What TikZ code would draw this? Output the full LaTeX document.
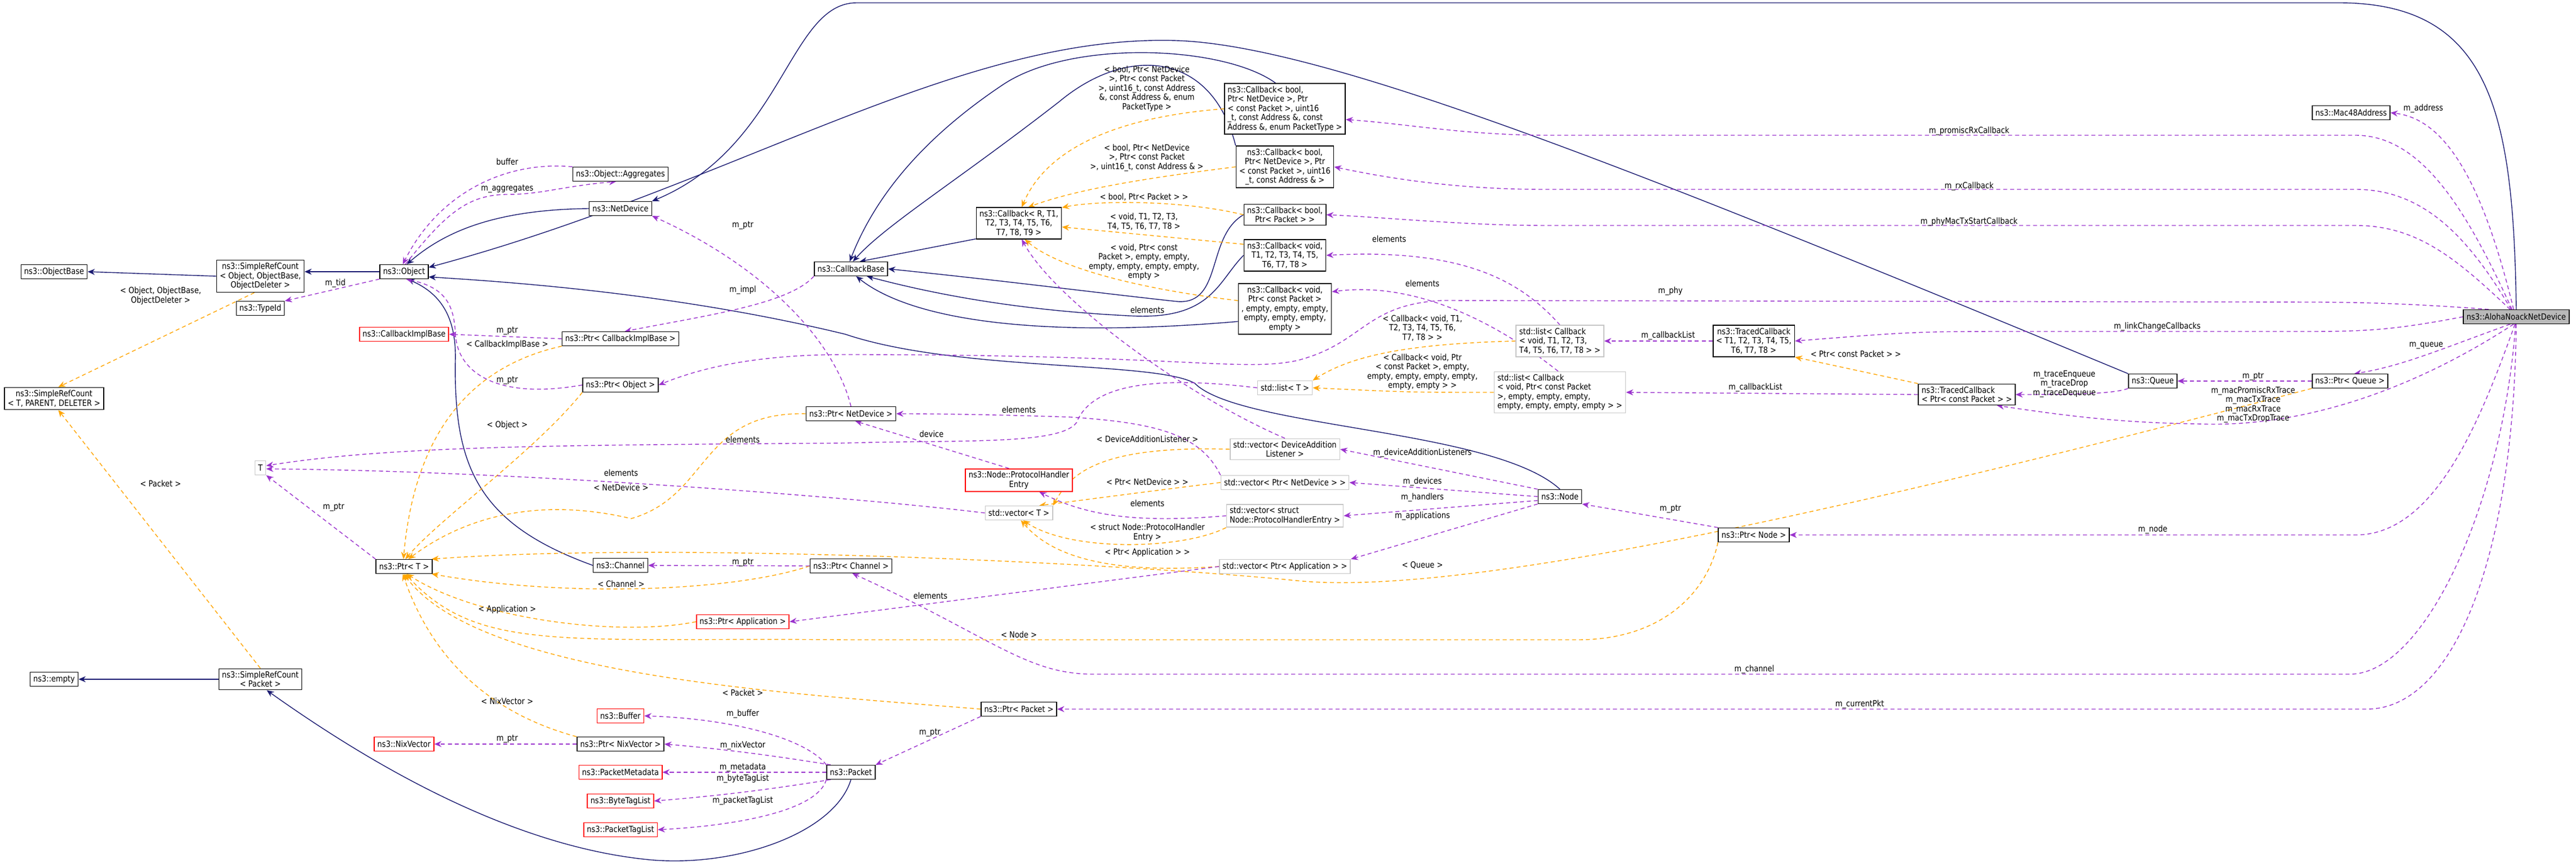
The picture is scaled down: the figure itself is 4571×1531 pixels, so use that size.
\documentclass[tikz,border=0pt]{standalone}
\usepackage{fontspec}
\setmainfont{DejaVu Sans}[FakeStretch=0.86]
\usetikzlibrary{arrows.meta}
\pgfdeclarelayer{bg}
\pgfsetlayers{bg,main}
\definecolor{inhc}{HTML}{191970}
\definecolor{usec}{HTML}{9A32CD}
\definecolor{tplc}{HTML}{FFA500}
\begin{document}
\begin{tikzpicture}[x=0.01cm,y=-0.01cm,
  every node/.style={font=\fontsize{4.3}{4.7}\selectfont},
  box/.style={draw=black,fill=white,line width=0.45pt,align=center,inner xsep=1.6pt,inner ysep=1.3pt,minimum height=7pt},
  rbox/.style={box,draw=red},
  gbox/.style={box,draw=gray!45},
  lbox/.style={box,align=left},
  lab/.style={align=center,inner sep=0.5pt},
  inh/.style={draw=inhc,line width=0.4pt,-{Stealth[length=3.6pt,width=3pt]}},
  use/.style={draw=usec,line width=0.4pt,dash pattern=on 2pt off 1.5pt,-{Stealth[length=3.6pt,width=3pt]}},
  tpl/.style={draw=tplc,line width=0.4pt,dash pattern=on 2pt off 1.5pt,-{Stealth[length=3.6pt,width=3pt]}}]
\useasboundingbox (0,0) rectangle (4571,1531);
% nodes
\node[box] (ob) at (96,482) {ns3::ObjectBase};
\node[box] (srco) at (462,490) {ns3::SimpleRefCount\\< Object, ObjectBase,\\ObjectDeleter >};
\node[box] (obj) at (717,482) {ns3::Object};
\node[box] (agg) at (1101,309) {ns3::Object::Aggregates};
\node[box] (nd) at (1101,370) {ns3::NetDevice};
\node[box] (tid) at (462,547) {ns3::TypeId};
\node[rbox] (cib) at (717,593) {ns3::CallbackImplBase};
\node[box] (pcib) at (1101,601) {ns3::Ptr< CallbackImplBase >};
\node[box] (srct) at (96,707) {ns3::SimpleRefCount\\< T, PARENT, DELETER >};
\node[box] (pobj) at (1101,683) {ns3::Ptr< Object >};
\node[gbox] (tt) at (462,830) {T};
\node[box] (ptrt) at (717,1005) {ns3::Ptr< T >};
\node[box] (chan) at (1101,1003) {ns3::Channel};
\node[rbox] (papp) at (1318,1103) {ns3::Ptr< Application >};
\node[box] (empty) at (96,1205) {ns3::empty};
\node[box] (srcp) at (462,1205) {ns3::SimpleRefCount\\< Packet >};
\node[rbox] (buf) at (1101,1270) {ns3::Buffer};
\node[rbox] (nix) at (717,1320) {ns3::NixVector};
\node[box] (pnix) at (1101,1320) {ns3::Ptr< NixVector >};
\node[rbox] (meta) at (1101,1370) {ns3::PacketMetadata};
\node[rbox] (btl) at (1101,1421) {ns3::ByteTagList};
\node[rbox] (ptl) at (1101,1472) {ns3::PacketTagList};
\node[box] (pkt) at (1510,1370) {ns3::Packet};
\node[box] (cbb) at (1510,477) {ns3::CallbackBase};
\node[box] (cbr) at (1808,396) {ns3::Callback< R, T1,\\T2, T3, T4, T5, T6,\\T7, T8, T9 >};
\node[lbox] (cbpt) at (2280,193) {ns3::Callback< bool,\\ Ptr< NetDevice >, Ptr\\< const Packet >, uint16\\\_t, const Address \&, const\\ Address \&, enum PacketType >};
\node[box] (cbaddr) at (2280,296) {ns3::Callback< bool,\\Ptr< NetDevice >, Ptr\\< const Packet >, uint16\\\_t, const Address \& >};
\node[box] (cbbp) at (2280,381) {ns3::Callback< bool,\\Ptr< Packet > >};
\node[box] (cbvt) at (2280,453) {ns3::Callback< void,\\T1, T2, T3, T4, T5,\\T6, T7, T8 >};
\node[box] (cbvp) at (2280,548) {ns3::Callback< void,\\Ptr< const Packet >\\, empty, empty, empty,\\empty, empty, empty,\\empty >};
\node[gbox,align=left] (lcbt) at (2768,605) {std::list< Callback\\< void, T1, T2, T3,\\ T4, T5, T6, T7, T8 > >};
\node[gbox] (lt) at (2280,688) {std::list< T >};
\node[gbox,align=left] (lcbp) at (2768,696) {std::list< Callback\\< void, Ptr< const Packet\\>, empty, empty, empty,\\ empty, empty, empty, empty > >};
\node[box] (pnd) at (1510,734) {ns3::Ptr< NetDevice >};
\node[gbox] (vdal) at (2280,797) {std::vector< DeviceAddition\\Listener >};
\node[rbox] (phe) at (1808,852) {ns3::Node::ProtocolHandler\\Entry};
\node[gbox] (vpnd) at (2280,856) {std::vector< Ptr< NetDevice > >};
\node[gbox] (vt) at (1808,910) {std::vector< T >};
\node[gbox,align=left] (vphe) at (2280,915) {std::vector< struct\\ Node::ProtocolHandlerEntry >};
\node[box] (node) at (2768,881) {ns3::Node};
\node[gbox] (vapp) at (2280,1005) {std::vector< Ptr< Application > >};
\node[box] (pch) at (1510,1004) {ns3::Ptr< Channel >};
\node[box] (pnode) at (3112,949) {ns3::Ptr< Node >};
\node[box] (ppkt) at (1808,1258) {ns3::Ptr< Packet >};
\node[box] (tct) at (3112,605) {ns3::TracedCallback\\< T1, T2, T3, T4, T5,\\T6, T7, T8 >};
\node[lbox] (tcp) at (3490,700) {ns3::TracedCallback\\< Ptr< const Packet > >};
\node[box] (queue) at (3820,676) {ns3::Queue};
\node[box] (pq) at (4170,676) {ns3::Ptr< Queue >};
\node[box] (mac) at (4172,200) {ns3::Mac48Address};
\node[box,fill=gray!55] (aloha) at (4465,562) {ns3::AlohaNoackNetDevice};
% labels
\node[lab] at (900,287) {buffer};
\node[lab] at (900,335) {m\_aggregates};
\node[lab] at (595,503) {m\_tid};
\node[lab] at (285,525) {< Object, ObjectBase,\\ObjectDeleter >};
\node[lab] at (285,858) {< Packet >};
\node[lab] at (1318,400) {m\_ptr};
\node[lab] at (900,587) {m\_ptr};
\node[lab] at (900,611) {< CallbackImplBase >};
\node[lab] at (1318,515) {m\_impl};
\node[lab] at (900,675) {m\_ptr};
\node[lab] at (900,754) {< Object >};
\node[lab] at (1318,780) {elements};
\node[lab] at (1102,839) {elements};
\node[lab] at (1102,865) {< NetDevice >};
\node[lab] at (592,900) {m\_ptr};
\node[lab] at (1318,998) {m\_ptr};
\node[lab] at (1102,1036) {< Channel >};
\node[lab] at (900,1081) {< Application >};
\node[lab] at (1318,1229) {< Packet >};
\node[lab] at (900,1244) {< NixVector >};
\node[lab] at (900,1311) {m\_ptr};
\node[lab] at (1318,1267) {m\_buffer};
\node[lab] at (1318,1323) {m\_nixVector};
\node[lab] at (1318,1362) {m\_metadata};
\node[lab] at (1318,1382) {m\_byteTagList};
\node[lab] at (1318,1421) {m\_packetTagList};
\node[lab] at (1650,1300) {m\_ptr};
\node[lab] at (1651,1057) {elements};
\node[lab] at (1808,1126) {< Node >};
\node[lab] at (2035,157) {< bool, Ptr< NetDevice\\>, Ptr< const Packet\\>, uint16\_t, const Address\\\&, const Address \&, enum\\PacketType >};
\node[lab] at (2035,280) {< bool, Ptr< NetDevice\\>, Ptr< const Packet\\>, uint16\_t, const Address \& >};
\node[lab] at (2030,350) {< bool, Ptr< Packet > >};
\node[lab] at (2030,393) {< void, T1, T2, T3,\\T4, T5, T6, T7, T8 >};
\node[lab] at (2030,465) {< void, Ptr< const\\Packet >, empty, empty,\\empty, empty, empty, empty,\\empty >};
\node[lab] at (2036,550) {elements};
\node[lab] at (2524,503) {elements};
\node[lab] at (2465,424) {elements};
\node[lab] at (2964,517) {m\_phy};
\node[lab] at (2524,582) {< Callback< void, T1,\\T2, T3, T4, T5, T6,\\T7, T8 > >};
\node[lab] at (2524,660) {< Callback< void, Ptr\\< const Packet >, empty,\\empty, empty, empty, empty,\\empty, empty > >};
\node[lab] at (1808,727) {elements};
\node[lab] at (1653,770) {device};
\node[lab] at (2036,779) {< DeviceAdditionListener >};
\node[lab] at (2036,855) {< Ptr< NetDevice > >};
\node[lab] at (2036,893) {elements};
\node[lab] at (2036,945) {< struct Node::ProtocolHandler\\Entry >};
\node[lab] at (2036,980) {< Ptr< Application > >};
\node[lab] at (2524,804) {m\_deviceAdditionListeners};
\node[lab] at (2524,855) {m\_devices};
\node[lab] at (2524,883) {m\_handlers};
\node[lab] at (2524,916) {m\_applications};
\node[lab] at (2524,1003) {< Queue >};
\node[lab] at (2964,903) {m\_ptr};
\node[lab] at (2960,596) {m\_callbackList};
\node[lab] at (3115,688) {m\_callbackList};
\node[lab] at (3293,628) {< Ptr< const Packet > >};
\node[lab] at (3663,681) {m\_traceEnqueue\\m\_traceDrop\\m\_traceDequeue};
\node[lab] at (3998,668) {m\_ptr};
\node[lab] at (3998,718) {m\_macPromiscRxTrace\\m\_macTxTrace\\m\_macRxTrace\\m\_macTxDropTrace};
\node[lab] at (4300,193) {m\_address};
\node[lab] at (3494,233) {m\_promiscRxCallback};
\node[lab] at (3494,331) {m\_rxCallback};
\node[lab] at (3494,394) {m\_phyMacTxStartCallback};
\node[lab] at (3828,580) {m\_linkChangeCallbacks};
\node[lab] at (4305,613) {m\_queue};
\node[lab] at (3820,940) {m\_node};
\node[lab] at (3113,1188) {m\_channel};
\node[lab] at (3300,1250) {m\_currentPkt};
\begin{pgfonlayer}{bg}
% inheritance
\draw[inh] (srco.west) -- (ob.east);
\draw[inh] (obj.west) -- (srco.east |- obj.west);
\draw[inh] (nd.west) .. controls (880,372) and (790,410) .. (obj.70);
\draw[inh] (queue.north west) .. controls (2900,300) and (2350,80) .. (2087,72) .. controls (1700,60) and (1300,330) .. (obj.10);
\draw[inh] (node.north) .. controls (2650,760) and (2200,760) .. (2120,680) .. controls (2050,640) and (1700,660) .. (1500,593) .. controls (1200,520) and (900,500) .. (obj.-12);
\draw[inh] (chan.west) .. controls (850,930) and (805,830) .. (808,640) .. controls (810,560) and (780,520) .. (obj.-65);
\draw[inh] (cbr.200) -- (cbb.40);
\draw[inh] (cbpt.110) .. controls (2170,80) and (1900,70) .. (1780,150) .. controls (1660,230) and (1560,330) .. (cbb.100);
\draw[inh] (cbaddr.north west) .. controls (2150,90) and (2000,80) .. (1880,180) .. controls (1700,320) and (1570,400) .. (cbb.75);
\draw[inh] (cbbp.west) .. controls (2140,420) and (2170,540) .. (2090,535) .. controls (1950,520) and (1800,500) .. (cbb.east);
\draw[inh] (cbvt.west) .. controls (2160,500) and (2150,570) .. (2000,560) .. controls (1800,550) and (1650,520) .. (cbb.-25);
\draw[inh] (cbvp.195) .. controls (1850,600) and (1620,570) .. (cbb.-55);
\draw[inh] (srcp.west) -- (empty.east);
\draw[inh] (pkt.south) .. controls (1480,1480) and (1300,1540) .. (1150,1525) .. controls (900,1500) and (650,1350) .. (srcp.-60);
\draw[inh] (aloha.north) .. controls (4460,200) and (4420,5) .. (4150,5) -- (1520,5) .. controls (1400,5) and (1390,260) .. (nd.north east);
% templates
\draw[tpl] (cbpt.west) .. controls (1950,210) and (1850,280) .. (cbr.80);
\draw[tpl] (cbaddr.west) .. controls (2000,320) and (1900,340) .. (cbr.60);
\draw[tpl] (cbbp.west) .. controls (2100,355) and (1950,355) .. (cbr.20);
\draw[tpl] (cbvt.165) -- (cbr.-5);
\draw[tpl] (cbvp.170) .. controls (2000,510) and (1870,470) .. (cbr.-70);
\draw[tpl] (srco.250) -- (srct.70);
\draw[tpl] (srcp.north) -- (srct.-70);
\draw[tpl] (pcib.south west) .. controls (880,640) and (740,720) .. (ptrt.95);
\draw[tpl] (pobj.south west) .. controls (950,800) and (780,920) .. (ptrt.80);
\draw[tpl] (pnd.west) .. controls (1240,730) and (1260,880) .. (1120,920) .. controls (950,880) and (820,920) .. (ptrt.60);
\draw[tpl] (pq.south west) .. controls (3300,900) and (2600,1060) .. (2300,1030) .. controls (2000,1000) and (1200,960) .. (ptrt.15);
\draw[tpl] (pch.west) .. controls (1300,1050) and (1000,1060) .. (ptrt.-15);
\draw[tpl] (papp.west) .. controls (1100,1130) and (850,1100) .. (ptrt.-70);
\draw[tpl] (pnode.south west) .. controls (3030,1050) and (2950,1135) .. (2800,1135) -- (1500,1135) .. controls (1000,1130) and (850,1160) .. (ptrt.-80);
\draw[tpl] (ppkt.west) .. controls (1400,1230) and (850,1200) .. (ptrt.-92);
\draw[tpl] (pnix.north west) .. controls (850,1260) and (760,1150) .. (ptrt.-100);
\draw[tpl] (lcbt.west) .. controls (2500,610) and (2400,630) .. (lt.north east);
\draw[tpl] (lcbp.west) .. controls (2500,696) .. (lt.east);
\draw[tpl] (vdal.west) .. controls (1950,790) and (1900,840) .. (vt.north east);
\draw[tpl] (vpnd.west) .. controls (2050,870) and (1900,890) .. (vt.20);
\draw[tpl] (vphe.south west) .. controls (2100,975) and (1900,980) .. (vt.-60);
\draw[tpl] (vapp.west) .. controls (1950,1020) and (1860,980) .. (vt.-75);
\draw[tpl] (tcp.north west) -- (tct.south east);
% usage
\draw[use] (agg.north west) .. controls (900,285) and (780,340) .. (obj.100);
\draw[use] (obj.80) .. controls (790,380) and (830,345) .. (900,345) .. controls (960,345) and (1000,330) .. (agg.-120);
\draw[use] (obj.south west) -- (tid.north east);
\draw[use] (pnd.north) .. controls (1480,600) and (1350,470) .. (nd.south east);
\draw[use] (pcib.west) -- (cib.east);
\draw[use] (cbb.south west) .. controls (1400,540) and (1250,560) .. (pcib.60);
\draw[use] (pobj.west) .. controls (880,710) and (810,660) .. (808,590) .. controls (805,540) and (790,510) .. (obj.-75);
\draw[use] (lt.west) .. controls (2000,660) and (1930,700) .. (1910,750) .. controls (1880,790) and (1700,780) .. (1500,786) .. controls (1000,790) and (700,790) .. (tt.20);
\draw[use] (vt.west) .. controls (1500,880) and (900,835) .. (tt.-10);
\draw[use] (ptrt.north west) -- (tt.south east);
\draw[use] (pch.west) -- (chan.east);
\draw[use] (pnix.west) -- (nix.east);
\draw[use] (pkt.north west) .. controls (1430,1310) and (1300,1275) .. (buf.east);
\draw[use] (pkt.160) .. controls (1400,1345) and (1300,1330) .. (pnix.east);
\draw[use] (pkt.west) -- (meta.east);
\draw[use] (pkt.200) .. controls (1400,1395) and (1300,1410) .. (btl.east);
\draw[use] (pkt.south west) .. controls (1450,1440) and (1300,1465) .. (ptl.east);
\draw[use] (ppkt.south west) -- (pkt.north east);
\draw[use] (vapp.west) -- (papp.east);
\draw[use] (vpnd.north west) .. controls (2130,770) and (2050,750) .. (1900,740) .. controls (1750,735) and (1650,734) .. (pnd.east);
\draw[use] (phe.130) -- (pnd.-60);
\draw[use] (vphe.west) .. controls (2000,930) and (1920,910) .. (phe.-30);
\draw[use] (vdal.north) .. controls (2100,700) and (1870,530) .. (cbr.-80);
\draw[use] (lcbp.95) .. controls (2640,560) and (2500,500) .. (cbvp.20);
\draw[use] (lcbt.north) .. controls (2700,500) and (2600,440) .. (cbvt.east);
\draw[use] (tct.west) -- (lcbt.east);
\draw[use] (tcp.west) -- (lcbp.east);
\draw[use] (node.north west) -- (vdal.east);
\draw[use] (node.west) -- (vpnd.east);
\draw[use] (node.-170) -- (vphe.east);
\draw[use] (node.south west) -- (vapp.north east);
\draw[use] (pnode.north west) -- (node.south east);
\draw[use] (queue.south west) .. controls (3750,700) and (3650,700) .. (tcp.east);
\draw[use] (pq.west) -- (queue.east);
\draw[use] (aloha.110) .. controls (4400,300) and (4330,210) .. (mac.east);
\draw[use] (aloha.120) .. controls (4380,380) and (4300,240) .. (4180,240) -- (2750,240) .. controls (2600,240) and (2500,220) .. (cbpt.-10);
\draw[use] (aloha.125) .. controls (4380,420) and (4300,336) .. (4180,336) -- (2740,336) .. controls (2600,336) and (2480,320) .. (cbaddr.east);
\draw[use] (aloha.130) .. controls (4360,460) and (4290,400) .. (4180,400) -- (2740,400) .. controls (2600,400) and (2450,385) .. (cbbp.east);
\draw[use] (aloha.165) .. controls (4300,540) and (4200,536) .. (4100,536) -- (2560,533) .. controls (2420,540) and (2420,610) .. (2300,640) .. controls (2200,660) and (2100,629) .. (1500,629) .. controls (1350,629) and (1250,650) .. (pobj.east);
\draw[use] (aloha.west) .. controls (4250,585) and (4200,588) .. (4100,588) -- (3600,588) .. controls (3400,588) .. (tct.east);
\draw[use] (aloha.-130) .. controls (4330,620) and (4260,650) .. (pq.60);
\draw[use] (aloha.-110) .. controls (4300,680) and (4100,760) .. (3900,752) .. controls (3750,750) and (3650,735) .. (tcp.-20);
\draw[use] (aloha.-100) .. controls (4400,750) and (4320,949) .. (4180,949) -- (pnode.east);
\draw[use] (aloha.-95) .. controls (4440,900) and (4300,1196) .. (4170,1196) -- (1940,1196) .. controls (1820,1196) and (1760,1130) .. (pch.-80);
\draw[use] (aloha.-90) .. controls (4460,1000) and (4350,1258) .. (4200,1258) -- (ppkt.east);
\end{pgfonlayer}
\end{tikzpicture}
\end{document}
